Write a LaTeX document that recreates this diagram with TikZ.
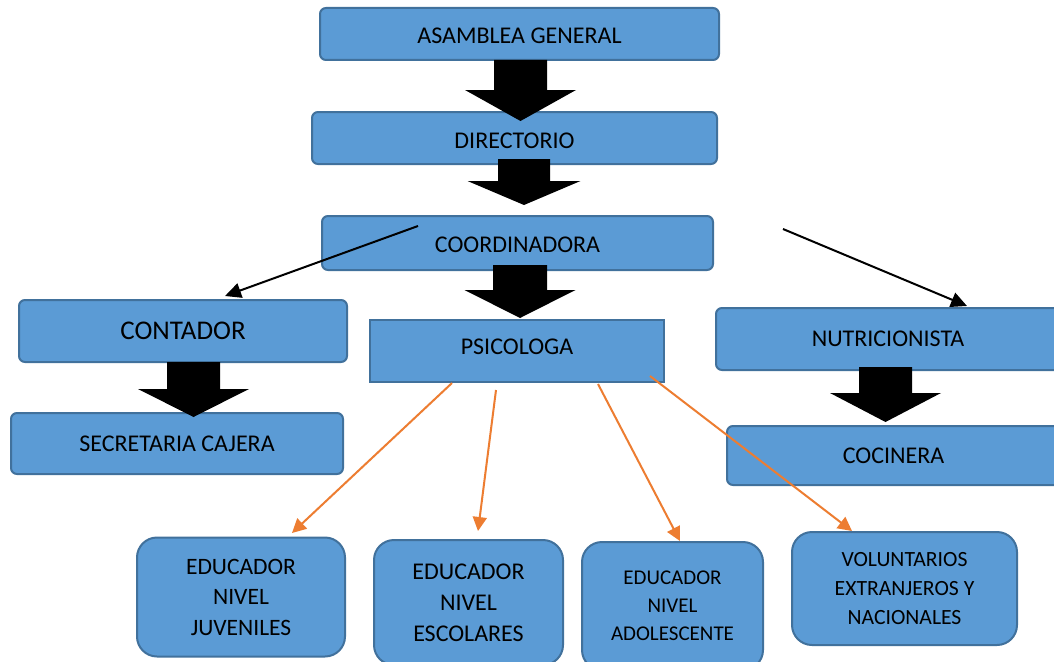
\documentclass[tikz,border=0pt]{standalone}
\usepackage{fontspec}
\setmainfont{Carlito}
\usetikzlibrary{arrows.meta,calc}
\definecolor{boxblue}{HTML}{5B9BD5}
\definecolor{boxedge}{HTML}{41719C}
\definecolor{orangeline}{HTML}{ED7D31}
\newcommand\blockarrow[6]{% cx, ytop, yneck, ytip, half shaft, half head
  \fill[black] (#1-#5,#2) -- (#1+#5,#2) -- (#1+#5,#3) -- (#1+#6,#3) -- (#1,#4)
    -- (#1-#6,#3) -- (#1-#5,#3) -- cycle;}
\begin{document}
\begin{tikzpicture}[x=1pt,y=-1pt,
  orgbox/.style={draw=boxedge, fill=boxblue, line width=2pt, rounded corners=6pt,
    inner sep=0pt, text=black, align=center, font=\fontsize{24}{28}\selectfont},
  bigbox/.style={orgbox, rounded corners=20pt, font=\fontsize{23.5}{30.5}\selectfont},
  thinarrow/.style={line width=2pt, black, -{Triangle[length=16pt,width=15pt]}},
  orarrow/.style={line width=2pt, orangeline, -{Triangle[length=14pt,width=14pt]}}]
\useasboundingbox (0,0) rectangle (1054,661);
\clip (0,0) rectangle (1054,661);
\fill[white] (0,0) rectangle (1054,661);

\node[orgbox, minimum width=399pt, minimum height=52pt, text height=19.5pt, text depth=0pt] (asam) at (519.5,34) {ASAMBLEA GENERAL};
\node[orgbox, minimum width=405pt, minimum height=52pt, text height=21.5pt, text depth=0pt] (dir) at (514.5,138) {DIRECTORIO};
\node[orgbox, minimum width=391pt, minimum height=54pt, text height=19.5pt, text depth=0pt] (coord) at (517.5,243) {COORDINADORA};
\node[orgbox, minimum width=328pt, minimum height=62pt, font=\fontsize{27}{30}\selectfont] (cont) at (183,331) {CONTADOR};
\node[orgbox, rounded corners=0pt, minimum width=294pt, minimum height=62pt, text depth=8pt] (psic) at (517,351) {PSICOLOGA};
\node[orgbox, minimum width=344pt, minimum height=62pt] (nutr) at (888,339) {NUTRICIONISTA};
\node[orgbox, minimum width=332pt, minimum height=61pt] (secr) at (177,443.5) {SECRETARIA CAJERA};
\node[orgbox, minimum width=333pt, minimum height=59pt] (coci) at (893.5,455.5) {COCINERA};
\node[bigbox, minimum width=208pt, minimum height=119pt] (juv) at (241,597) {EDUCADOR\\NIVEL\\JUVENILES};
\node[bigbox, minimum width=189pt, minimum height=125pt, font=\fontsize{24}{31}\selectfont] (esc) at (468.5,602.5) {EDUCADOR\\NIVEL\\ESCOLARES};
\node[bigbox, minimum width=181pt, minimum height=128pt, font=\fontsize{21}{28}\selectfont] (ado) at (672.5,606) {EDUCADOR\\NIVEL\\ADOLESCENTE};
\node[bigbox, minimum width=225pt, minimum height=113pt, font=\fontsize{21.7}{29}\selectfont] (vol) at (904.5,588.5) {VOLUNTARIOS\\EXTRANJEROS Y\\NACIONALES};

% block arrows
\blockarrow{520.5}{60}{90}{121}{26.5}{55.5}
\blockarrow{524}{159}{181}{205}{26}{56.5}
\blockarrow{520}{265}{290}{318}{27}{55.5}
\blockarrow{193.5}{362}{389}{417}{26.5}{55.5}
\blockarrow{885.5}{367}{393}{422}{26.5}{55.5}

% thin black arrows
\coordinate (cl) at (418,226);
\coordinate (cr) at (783,229);
\coordinate (contin) at (225,296);
\coordinate (nutrin) at (967,306);
\draw[thinarrow] (cl) -- (contin);
\draw[thinarrow] (cr) -- (nutrin);

% orange arrows
\coordinate (p1) at (452,383);
\coordinate (p2) at (496,390);
\coordinate (p3) at (598,384);
\coordinate (p4) at (650,376);
\coordinate (juvin) at (292,533);
\coordinate (escin) at (478,531);
\coordinate (adoin) at (680,541);
\coordinate (volin) at (852,531);
\draw[orarrow] (p1) -- (juvin);
\draw[orarrow] (p2) -- (escin);
\draw[orarrow] (p3) -- (adoin);
\draw[orarrow] (p4) -- (volin);
\end{tikzpicture}
\end{document}
